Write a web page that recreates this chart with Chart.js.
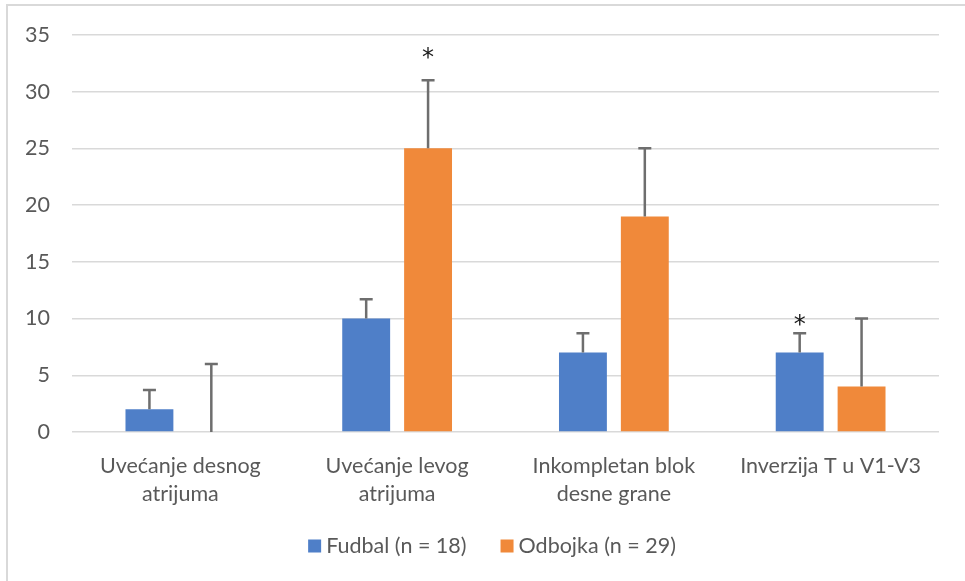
<!DOCTYPE html>
<html>
<head>
<meta charset="utf-8">
<script src="https://cdn.jsdelivr.net/npm/chart.js@4.4.1/dist/chart.umd.min.js"></script>
<style>
  html, body { margin: 0; padding: 0; background: #fff; }
  #frame {
    position: absolute; left: 6px; top: 4px; width: 959px; height: 577px;
    border-top: 2px solid #d9d9d9; border-left: 2px solid #d9d9d9; box-sizing: border-box;
  }
  #wrap { position: absolute; left: 0; top: 0; width: 965px; height: 581px; }
</style>
</head>
<body>
<div id="frame"></div>
<div id="wrap"><canvas id="c"></canvas></div>
<script>
// Categories (x axis, wrapped onto two lines where needed)
const categories = [
  ['Uvećanje desnog', 'atrijuma'],
  ['Uvećanje levog', 'atrijuma'],
  ['Inkompletan blok', 'desne grane'],
  ['Inverzija T u V1-V3']
];

// Series values (%)
const fudbal  = [2, 10, 7, 7];
const odbojka = [0, 25, 19, 4];

// Upper error amounts
const fudbalErr  = [1.7, 1.7, 1.7, 1.7];
const odbojkaErr = [6, 6, 6, 6];

// Significance markers: value at which the asterisk sits (null = none)
const fudbalSig  = [null, null, null, 9.9];
const odbojkaSig = [null, 33.4, null, null];

// Y axis range
const yMin = 0, yMax = 35, yStep = 5;

const seriesNames = ['Fudbal (n = 18)', 'Odbojka (n = 29)'];
const seriesColors = ['rgb(79,127,200)', 'rgb(240,137,58)'];

const FONT = 'Lato, "Open Sans", sans-serif';
const FS = 21.5;
const TEXT = '#595959';

// Draws upper error whiskers and the significance asterisks
const errorBarPlugin = {
  id: 'errorBars',
  afterDatasetsDraw(chart) {
    const ctx = chart.ctx;
    const y = chart.scales.y;
    chart.data.datasets.forEach((ds, di) => {
      const meta = chart.getDatasetMeta(di);
      meta.data.forEach((bar, i) => {
        const top = y.getPixelForValue(ds.data[i] + ds.errPlus[i]);
        ctx.save();
        ctx.strokeStyle = '#6e6e6e';
        ctx.lineWidth = 2.5;
        ctx.beginPath();
        ctx.moveTo(bar.x, bar.y);
        ctx.lineTo(bar.x, top);
        ctx.moveTo(bar.x - 6.5, top);
        ctx.lineTo(bar.x + 6.5, top);
        ctx.stroke();
        const s = ds.sig[i];
        if (s !== null && s !== undefined) {
          ctx.font = '24px "DejaVu Sans", sans-serif';
          ctx.fillStyle = '#1a1a1a';
          ctx.textAlign = 'center';
          ctx.textBaseline = 'alphabetic';
          const m = ctx.measureText('*');
          const py = y.getPixelForValue(s);
          ctx.fillText('*', bar.x, py + (m.actualBoundingBoxAscent - m.actualBoundingBoxDescent) / 2);
        }
        ctx.restore();
      });
    });
  }
};

// Compact legend row under the category labels
const legendRowPlugin = {
  id: 'legendRow',
  afterDraw(chart) {
    const ctx = chart.ctx;
    const box = 13, gapText = 5, gapItem = 34;
    const centerX = 492, centerY = 546;
    ctx.save();
    ctx.font = FS + 'px ' + FONT;
    const widths = chart.data.datasets.map(ds => ctx.measureText(ds.label).width);
    const total = widths.reduce((a, w) => a + box + gapText + w, 0) + gapItem * (widths.length - 1);
    let x = centerX - total / 2;
    chart.data.datasets.forEach((ds, i) => {
      ctx.fillStyle = ds.backgroundColor;
      ctx.fillRect(x, centerY - box / 2, box, box);
      ctx.fillStyle = TEXT;
      ctx.textAlign = 'left';
      ctx.textBaseline = 'middle';
      ctx.fillText(ds.label, x + box + gapText, centerY);
      x += box + gapText + widths[i] + gapItem;
    });
    ctx.restore();
  }
};

new Chart(document.getElementById('c'), {
  type: 'bar',
  data: {
    labels: categories,
    datasets: [
      { label: seriesNames[0], data: fudbal, errPlus: fudbalErr, sig: fudbalSig,
        backgroundColor: seriesColors[0] },
      { label: seriesNames[1], data: odbojka, errPlus: odbojkaErr, sig: odbojkaSig,
        backgroundColor: seriesColors[1] }
    ]
  },
  options: {
    responsive: true,
    maintainAspectRatio: false,
    animation: false,
    categoryPercentage: 0.571,
    barPercentage: 0.774,
    layout: { padding: { top: 29, right: 26, bottom: 64.5, left: 0 } },
    plugins: {
      legend: { display: false },
      tooltip: { enabled: false }
    },
    scales: {
      x: {
        grid: { display: false, drawTicks: false },
        border: { display: false },
        ticks: { color: TEXT, padding: 20, font: { family: FONT, size: FS, lineHeight: 1.3 } },
        afterFit(scale) { scale.height = 84.5; }
      },
      y: {
        min: yMin, max: yMax,
        ticks: { stepSize: yStep, color: TEXT, padding: 22, font: { family: FONT, size: FS } },
        grid: { color: '#d9d9d9', lineWidth: 1.5, drawTicks: false },
        border: { display: false },
        afterFit(scale) { scale.width = 72; }
      }
    }
  },
  plugins: [errorBarPlugin, legendRowPlugin]
});
</script>
</body>
</html>
